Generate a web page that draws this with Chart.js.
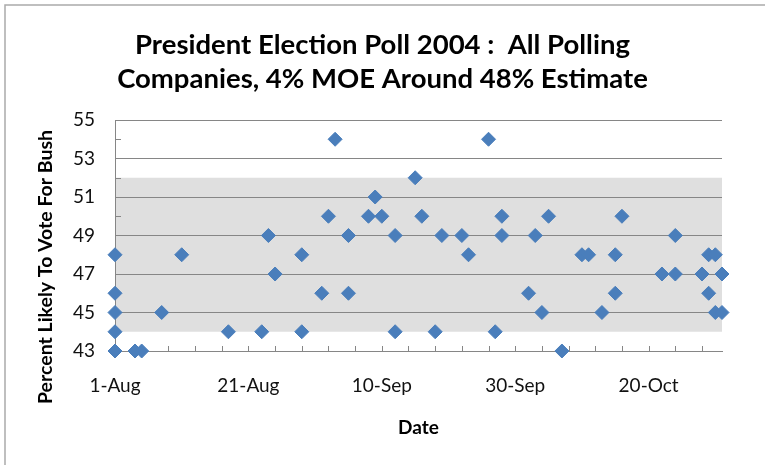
<!DOCTYPE html>
<html>
<head>
<meta charset="utf-8">
<script src="https://cdn.jsdelivr.net/npm/chart.js@4.4.0/dist/chart.umd.min.js"></script>
<style>
  html, body { margin: 0; padding: 0; background: #fff; }
  #wrap { width: 765px; height: 465px; }
</style>
</head>
<body>
<div id="wrap"><canvas id="pollChart" width="765" height="465"></canvas></div>
<script>
// polls (2004) and % likely to vote for Bush
const pollDates = [
  '2004-08-01', '2004-08-01', '2004-08-01', '2004-08-01', '2004-08-01',
  '2004-08-04', '2004-08-05', '2004-08-08', '2004-08-11', '2004-08-18',
  '2004-08-23', '2004-08-24', '2004-08-25', '2004-08-29', '2004-08-29',
  '2004-09-01', '2004-09-02', '2004-09-03', '2004-09-05', '2004-09-05',
  '2004-09-08', '2004-09-09', '2004-09-10', '2004-09-12', '2004-09-12',
  '2004-09-15', '2004-09-16', '2004-09-18', '2004-09-19', '2004-09-22',
  '2004-09-23', '2004-09-26', '2004-09-27', '2004-09-28', '2004-09-28',
  '2004-10-02', '2004-10-03', '2004-10-04', '2004-10-05', '2004-10-07',
  '2004-10-10', '2004-10-11', '2004-10-13', '2004-10-15', '2004-10-15',
  '2004-10-16', '2004-10-22', '2004-10-24', '2004-10-24', '2004-10-28',
  '2004-10-29', '2004-10-29', '2004-10-30', '2004-10-30', '2004-10-31',
  '2004-10-31'
];
const bushPct = [
  48, 46, 45, 44, 43,
  43, 43, 45, 48, 44,
  44, 49, 47, 48, 44,
  46, 50, 54, 49, 46,
  50, 51, 50, 49, 44,
  52, 50, 44, 49, 49,
  48, 54, 44, 50, 49,
  46, 49, 45, 50, 43,
  48, 48, 45, 48, 46,
  50, 47, 49, 47, 47,
  48, 46, 48, 45, 47,
  45
];

// axis
const startDate = '2004-08-01';
const endDate = '2004-10-31';
const xLabelDates = ['2004-08-01', '2004-08-21', '2004-09-10', '2004-09-30', '2004-10-20'];
const yMin = 43;
const yMax = 55;
// 4% MOE band around the 48% estimate
const moeLow = 44;
const moeHigh = 52;

const titleLines = ['President Election Poll 2004 :  All Polling', 'Companies, 4% MOE Around 48% Estimate'];
const months = ['Jan', 'Feb', 'Mar', 'Apr', 'May', 'Jun', 'Jul', 'Aug', 'Sep', 'Oct', 'Nov', 'Dec'];

function toUTC(s) {
  const [y, m, d] = s.split('-').map(Number);
  return Date.UTC(y, m - 1, d);
}
function dayNum(s) {
  return Math.round((toUTC(s) - toUTC(startDate)) / 86400000);
}
function dayLabel(n) {
  const d = new Date(toUTC(startDate) + n * 86400000);
  return d.getUTCDate() + '-' + months[d.getUTCMonth()];
}

const labelDays = xLabelDates.map(dayNum);
const AXIS = '#868686';

const decor = {
  id: 'decor',
  beforeDraw(chart) {
    const { ctx, chartArea: a, scales: { y } } = chart;
    ctx.save();
    // chart frame (only top/left show in the crop)
    ctx.strokeStyle = '#ababab';
    ctx.lineWidth = 1.5;
    ctx.beginPath();
    ctx.moveTo(5, 470);
    ctx.lineTo(5, 5);
    ctx.lineTo(770, 5);
    ctx.stroke();
    // MOE band
    ctx.fillStyle = '#dfdfdf';
    const top = y.getPixelForValue(moeHigh);
    const bot = y.getPixelForValue(moeLow);
    ctx.fillRect(a.left, top, a.right - a.left, bot - top);
    ctx.restore();
  },
  beforeDatasetsDraw(chart) {
    const { ctx, chartArea: a, scales: { x, y } } = chart;
    ctx.save();
    ctx.strokeStyle = AXIS;
    ctx.lineWidth = 1;
    ctx.beginPath();
    // inside minor ticks
    for (let d = 0; d <= x.max; d += 4) {
      const px = Math.round(x.getPixelForValue(d)) + 0.5;
      ctx.moveTo(px, a.bottom);
      ctx.lineTo(px, a.bottom - 5);
    }
    for (let v = yMin + 1; v < yMax; v += 2) {
      const py = Math.round(y.getPixelForValue(v)) + 0.5;
      ctx.moveTo(a.left, py);
      ctx.lineTo(a.left + 6, py);
    }
    ctx.stroke();
    ctx.restore();
  },
  afterDraw(chart) {
    const { ctx } = chart;
    ctx.save();
    ctx.translate(46, 267);
    ctx.rotate(-Math.PI / 2);
    ctx.font = 'bold 19.5px Lato';
    ctx.fillStyle = '#000';
    ctx.textAlign = 'center';
    ctx.textBaseline = 'middle';
    ctx.fillText('Percent Likely To Vote For Bush', 0, 0);
    ctx.restore();
  }
};

new Chart(document.getElementById('pollChart'), {
  type: 'scatter',
  data: {
    datasets: [{
      data: pollDates.map((d, i) => ({ x: dayNum(d), y: bushPct[i] })),
      pointStyle: 'rectRot',
      pointRadius: 7,
      pointHoverRadius: 7,
      backgroundColor: '#4A7EBB',
      borderColor: '#4A7EBB',
      borderWidth: 1,
      clip: false
    }]
  },
  options: {
    responsive: false,
    animation: false,
    devicePixelRatio: 1,
    layout: { padding: { left: 43, right: 43, top: 0, bottom: 0 } },
    plugins: {
      legend: { display: false },
      tooltip: { enabled: false },
      title: {
        display: true,
        text: titleLines,
        color: '#000',
        font: { family: 'Lato', size: 27.5, weight: 'bold', lineHeight: '34px' },
        padding: { top: 28, bottom: 24 }
      }
    },
    scales: {
      x: {
        type: 'linear',
        min: 0,
        max: dayNum(endDate),
        afterFit: s => { s.height = 114; },
        grid: { display: false, drawTicks: false },
        border: { display: true, color: AXIS, width: 1 },
        ticks: {
          stepSize: 20,
          autoSkip: false,
          maxRotation: 0,
          padding: 23,
          color: '#111',
          font: { family: 'Lato', size: 19 },
          callback: v => labelDays.includes(v) ? dayLabel(v) : ''
        },
        title: {
          display: true,
          text: 'Date',
          color: '#000',
          font: { family: 'Lato', size: 19, weight: 'bold' },
          padding: { top: 0, bottom: 26 }
        }
      },
      y: {
        min: yMin,
        max: yMax,
        afterFit: s => { s.width = 72; },
        grid: {
          drawTicks: false,
          color: c => (c.tick && c.tick.value % 2 === 1) ? AXIS : 'rgba(0,0,0,0)'
        },
        border: { display: true, color: AXIS, width: 1 },
        ticks: {
          stepSize: 1,
          autoSkip: false,
          padding: 20,
          color: '#111',
          font: { family: 'Lato', size: 19 },
          callback: v => v % 2 === 1 ? v : ''
        }
      }
    }
  },
  plugins: [decor]
});
</script>
</body>
</html>
